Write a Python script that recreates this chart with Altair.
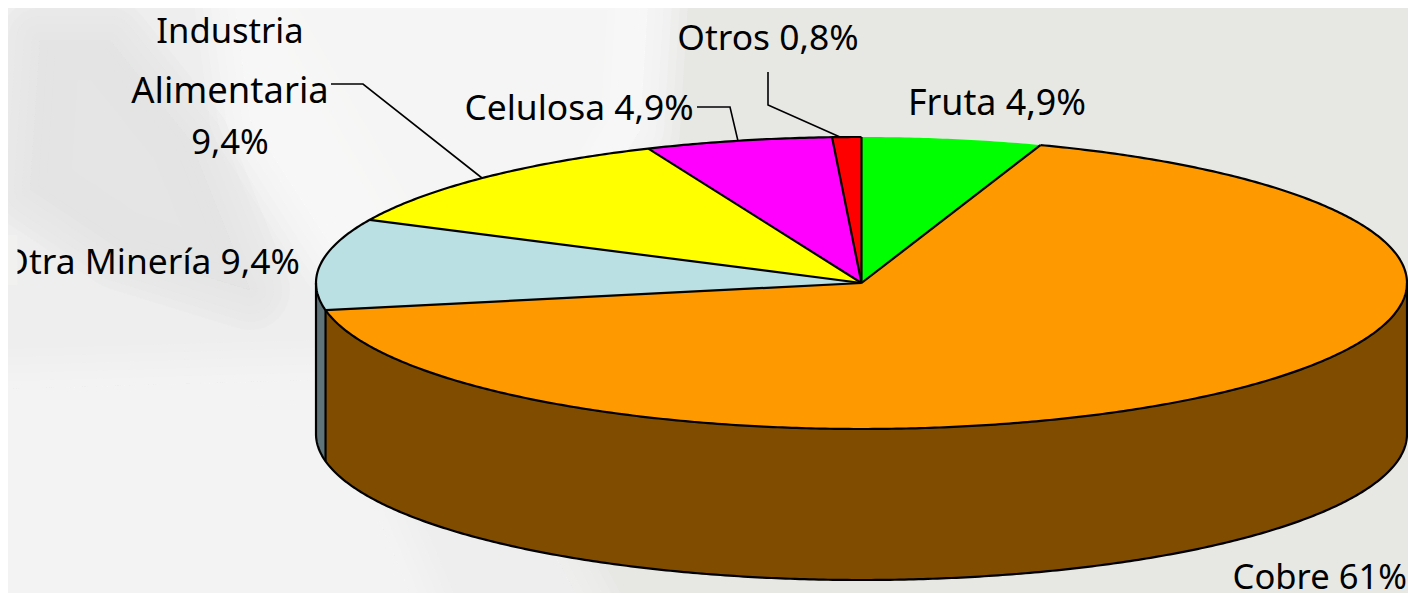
import math
import altair as alt

# ---- values -------------------------------------------------------------
slice_names = ["Fruta", "Cobre", "Otra Minería", "Industria Alimentaria", "Celulosa", "Otros"]
slice_shares = [5.32, 66.7, 10.1, 11.49, 5.53, 0.86]   # share of the drawn circle
slice_colors = ["#00FF00", "#FF9900", "#BAE0E4", "#FFFF00", "#FF00FF", "#FF0000"]
wall_colors = {"Cobre": "#804C00", "Otra Minería": "#5F7478"}

center_labels = ["Industria", "Alimentaria", "9,4%", "Celulosa 4,9%", "Otros 0,8%", "Fruta 4,9%"]
center_x = [230, 230, 230, 579, 768, 997]
center_y = [43, 103, 154, 120, 50, 115]
center_size = [34.6, 36.4, 34.6, 35.4, 35.4, 35.8]
right_labels = ["Otra Minería 9,4%", "Cobre 61%"]
right_x = [300, 1407]
right_y = [274, 589]
right_size = [35.4, 34.6]

# ---- layout (page pixels) -----------------------------------------------
PAGE_W, PAGE_H = 1408, 593
ORG_X, ORG_Y = 8, 8
CX, CY, RX, RY, DEPTH = 861.5, 283.0, 545.5, 146.0, 151.0
FONT = "Noto Sans"
leaders = [
    [(331, 84), (363, 84), (482, 178)],
    [(697, 107), (730, 107), (738, 141)],
    [(768, 72), (768, 105), (840, 137)],
]
bg_patches = [
    ("#F3F3F2", [(-30, -30), (230, -30), (420, 300), (600, 640), (-30, 640)]),
    ("#FBFBFB", [(230, -30), (650, -30), (640, 130), (560, 260), (340, 260), (250, 120)]),
    ("#E3E4E2", [(40, 40), (110, 40), (190, 140), (250, 290), (120, 250), (30, 190)]),
    ("#F6F6F6", [(-30, 390), (320, 380), (430, 640), (-30, 640)]),
]
soft_widths = [80, 64, 48, 32, 16, 0]
edge_mask = [(0, 235), (17.5, 235), (17.5, 285), (0, 285)]  # the reference's left edge crops this label
edge_mask_colour = "#F1F1F0"


def pt(deg, drop=0.0):
    a = math.radians(deg)
    return [CX + RX * math.sin(a) - ORG_X, CY - RY * math.cos(a) + drop - ORG_Y]


def arc(a, b, drop=0.0):
    n = max(2, int(abs(b - a) * 2))
    return [pt(a + (b - a) * i / n, drop) for i in range(n + 1)]


def feat(name, geom_type, coords):
    return {"type": "Feature", "properties": {"name": name},
            "geometry": {"type": geom_type, "coordinates": coords}}


def geo(features):
    return alt.InlineData(values={"type": "FeatureCollection", "features": features},
                          format=alt.DataFormat(property="features", type="json"))


total = sum(slice_shares)
edges = [0.0]
for s in slice_shares:
    edges.append(edges[-1] + s / total * 360.0)
centre = [CX - ORG_X, CY - ORG_Y]

tops = []
for name, a, b in zip(slice_names, edges[:-1], edges[1:]):
    tops.append(feat(name, "Polygon", [[centre] + arc(a, b) + [centre]]))

walls = []
cobre_end = edges[2]
otra_end = 270.0
for name, a, b in [("Cobre", 90.0, cobre_end), ("Otra Minería", cobre_end, otra_end)]:
    ring = arc(a, b) + arc(b, a, DEPTH)
    walls.append(feat(name, "Polygon", [ring + [ring[0]]]))

outlines = []
for e in edges[1:-1] + [0.0]:
    outlines.append(feat("r", "LineString", [centre, pt(e)]))
outlines.append(feat("rim", "LineString", arc(edges[1], 360.0)))
outlines.append(feat("base", "LineString", arc(90.0, 270.0, DEPTH)))
for e in (90.0, cobre_end, 270.0):
    outlines.append(feat("v", "LineString", [pt(e), pt(e, DEPTH)]))

leader_feats = [feat("l", "LineString", [[x - ORG_X, y - ORG_Y] for x, y in pts]) for pts in leaders]


def project(ch):
    return ch.project(type="identity", scale=1, translate=[0, 0])


def local_ring(poly):
    return [[x - ORG_X, y - ORG_Y] for x, y in poly + [poly[0]]]


bg_layers = []
for colour, poly in bg_patches:
    for w in soft_widths:
        bg_layers.append(project(alt.Chart(geo([feat("p", "Polygon", [local_ring(poly)])])).mark_geoshape(
            fill=colour, stroke=colour, strokeWidth=w, fillOpacity=0.22, strokeOpacity=0.22, strokeJoin="round"
        )))

wall_layer = project(alt.Chart(geo(walls)).mark_geoshape(strokeWidth=0).encode(
    fill=alt.Fill("properties.name:N", scale=alt.Scale(domain=list(wall_colors), range=list(wall_colors.values())), legend=None)
))

top_layer = project(alt.Chart(geo(tops)).mark_geoshape(strokeWidth=0).encode(
    fill=alt.Fill("properties.name:N", scale=alt.Scale(domain=slice_names, range=slice_colors), legend=None)
))

outline_layer = project(alt.Chart(geo(outlines)).mark_geoshape(
    filled=False, stroke="#000000", strokeWidth=2.2, strokeJoin="round"
))

leader_layer = project(alt.Chart(geo(leader_feats)).mark_geoshape(
    filled=False, stroke="#000000", strokeWidth=1.6
))

mask_layer = project(alt.Chart(geo([feat("m", "Polygon", [local_ring(edge_mask)])])).mark_geoshape(
    fill=edge_mask_colour, strokeWidth=0
))


def text_layer(labels, xs, ys, sizes, align):
    rows = [{"t": t, "x": x - ORG_X, "y": y - ORG_Y, "s": s} for t, x, y, s in zip(labels, xs, ys, sizes)]
    return project(alt.Chart(alt.Data(values=rows)).mark_text(
        font=FONT, align=align, baseline="alphabetic", color="#000000"
    ).encode(longitude="x:Q", latitude="y:Q", text="t:N", size=alt.Size("s:Q", scale=None)))


chart = alt.layer(
    *bg_layers, wall_layer, top_layer, outline_layer, leader_layer,
    text_layer(center_labels, center_x, center_y, center_size, "center"),
    text_layer(right_labels, right_x, right_y, right_size, "right"),
    mask_layer,
).resolve_scale(fill="independent").properties(
    width=PAGE_W - ORG_X,
    height=PAGE_H - ORG_Y,
    background="#E7E8E4",
    padding=0,
    autosize=alt.AutoSizeParams(type="none"),
).configure_view(stroke=None)

chart.save("out.html", embed_options={"renderer": "svg", "actions": False})
